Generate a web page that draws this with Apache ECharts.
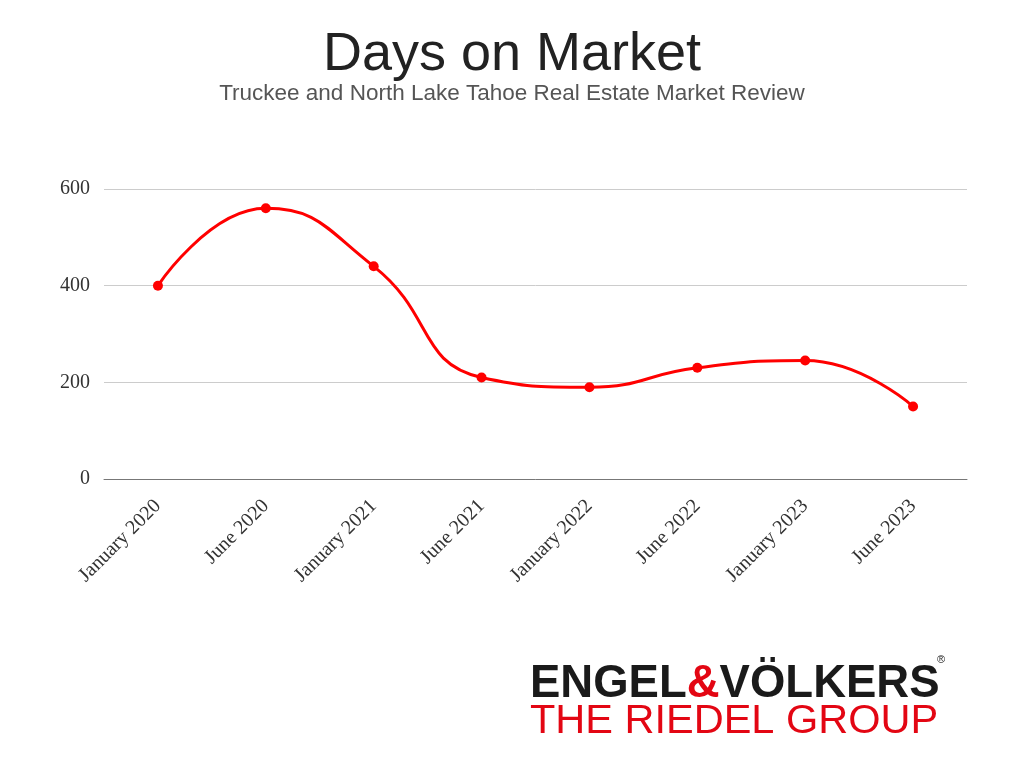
<!DOCTYPE html>
<html>
<head>
<meta charset="utf-8">
<script src="https://cdn.jsdelivr.net/npm/echarts@6/dist/echarts.min.js"></script>
<style>html,body{margin:0;padding:0;background:#fff;}#c{width:1024px;height:768px;}</style>
</head>
<body>
<div id="c"></div>
<script>
const categories = ["January 2020","June 2020","January 2021","June 2021","January 2022","June 2022","January 2023","June 2023"];
const daysOnMarket = [400, 560, 440, 210, 190, 230, 245, 150];
const yTicks = [0, 200, 400, 600];

const chart = echarts.init(document.getElementById('c'));
chart.setOption({
  backgroundColor: '#ffffff',
  animation: false,
  title: [{
    text: 'Days on Market',
    left: 'center',
    top: 28,
    padding: 0,
    textStyle: { fontFamily: 'Liberation Sans', fontSize: 54, fontWeight: 'normal', color: '#222222' }
  }, {
    text: 'Truckee and North Lake Tahoe Real Estate Market Review',
    left: 'center',
    top: 82,
    padding: 0,
    textStyle: { fontFamily: 'Liberation Sans', fontSize: 22.5, fontWeight: 'normal', color: '#555555' }
  }],
  grid: { left: 104, right: 57, top: 189, bottom: 289, containLabel: false },
  xAxis: {
    type: 'category',
    data: categories,
    boundaryGap: true,
    axisLine: { lineStyle: { color: '#777777', width: 1 } },
    axisTick: { show: false },
    axisLabel: { rotate: 45, margin: 24, fontFamily: 'Liberation Serif', fontSize: 20, color: '#333333' }
  },
  yAxis: {
    type: 'value',
    min: yTicks[0],
    max: yTicks[yTicks.length - 1],
    interval: 200,
    axisLine: { show: false },
    axisTick: { show: false },
    splitLine: { lineStyle: { color: '#cccccc', width: 1 } },
    axisLabel: { margin: 14, fontFamily: 'Liberation Serif', fontSize: 20, color: '#333333' }
  },
  series: [{
    type: 'line',
    data: daysOnMarket,
    smooth: true,
    symbol: 'circle',
    symbolSize: 10,
    lineStyle: { color: '#ff0000', width: 3 },
    itemStyle: { color: '#ff0000' }
  }],
  graphic: [
    {
      type: 'text',
      left: 530,
      top: 661,
      style: {
        text: '{b|ENGEL}{r|&}{b|VÖLKERS}',
        rich: {
          b: { fontFamily: 'Liberation Sans', fontSize: 45.5, fontWeight: 'bold', fill: '#1a1a1a' },
          r: { fontFamily: 'Liberation Sans', fontSize: 45.5, fontWeight: 'bold', fill: '#e30613' }
        }
      }
    },
    {
      type: 'text',
      left: 937,
      top: 654,
      style: { text: '®', fontFamily: 'Liberation Sans', fontSize: 11, fill: '#1a1a1a' }
    },
    {
      type: 'text',
      left: 530,
      top: 701,
      style: { text: 'THE RIEDEL GROUP', fontFamily: 'Liberation Sans', fontSize: 41.5, fill: '#e30613' }
    }
  ]
});
</script>
</body>
</html>
